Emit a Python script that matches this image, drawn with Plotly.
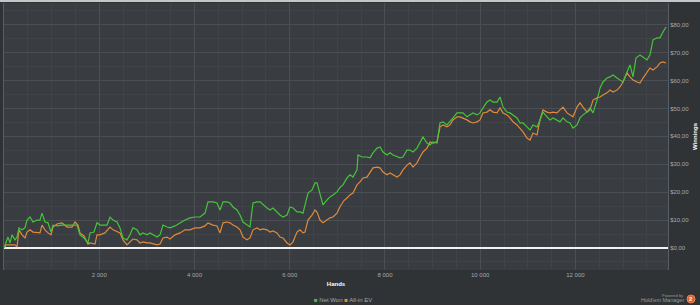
import plotly.graph_objects as go

# ---------------- data ----------------
hands_net = [0, 42, 84, 126, 168, 231, 273, 315, 378, 441, 483, 546, 609, 693, 756, 798, 861, 924, 987, 1029,
             1113, 1218, 1323, 1428, 1533, 1596, 1680, 1764, 1806, 1890, 1953, 2016, 2079, 2163, 2226, 2289,
             2373, 2436, 2499, 2583, 2646, 2709, 2793, 2856, 2919, 3003, 3066, 3129, 3213, 3276, 3339, 3423,
             3486, 3591, 3696, 3801, 3906, 4011, 4116, 4221, 4284, 4389, 4473, 4536, 4599, 4683, 4746, 4809,
             4893, 4956, 5019, 5103, 5166, 5229, 5313, 5376, 5439, 5523, 5586, 5649, 5733, 5796, 5859, 5943,
             6006, 6069, 6153, 6216, 6279, 6321, 6384, 6468, 6531, 6573, 6636, 6699, 6783, 6846, 6909, 6993,
             7056, 7119, 7203, 7266, 7329, 7413, 7434, 7518, 7623, 7686, 7749, 7833, 7896, 7959, 8043, 8106,
             8169, 8253, 8316, 8379, 8463, 8526, 8589, 8673, 8736, 8799, 8883, 8946, 9009, 9093, 9156, 9219,
             9303, 9366, 9429, 9513, 9576, 9639, 9723, 9786, 9849, 9933, 9996, 10059, 10143, 10206, 10269,
             10353, 10416, 10479, 10563, 10626, 10689, 10773, 10836, 10899, 10983, 11046, 11109, 11193, 11256,
             11319, 11403, 11466, 11529, 11613, 11676, 11739, 11823, 11886, 11949, 12033, 12096, 12159, 12243,
             12306, 12369, 12453, 12516, 12579, 12663, 12726, 12789, 12873, 12936, 12999, 13083, 13146, 13209,
             13272, 13356, 13419, 13503, 13566, 13629, 13713, 13776, 13839, 13902]
net_won = [0.0, 1.8, 3.9, 1.8, 4.7, 2.9, 3.9, 7.2, 6.5, 7.2, 10.0, 11.1, 9.3, 10.0, 10.0, 12.5, 9.3, 9.0, 5.7, 8.2,
           7.9, 8.2, 8.2, 8.2, 8.2, 4.7, 3.6, 1.8, 5.4, 5.7, 9.0, 8.2, 8.2, 8.2, 11.1, 10.0,
           9.3, 7.2, 3.6, 2.9, 4.7, 7.2, 6.5, 4.7, 5.4, 4.7, 5.4, 4.7, 3.9, 4.7, 8.2, 7.5,
           7.2, 7.9, 9.0, 10.0, 10.8, 11.1, 11.1, 12.5, 16.5, 16.5, 16.1, 13.6, 16.5, 16.5, 16.1, 14.7,
           13.6, 11.8, 9.3, 8.2, 7.5, 16.1, 16.5, 16.5, 15.4, 14.3, 13.6, 14.3, 12.9, 11.8, 11.1, 11.8,
           14.7, 14.3, 12.9, 12.9, 12.5, 15.4, 19.7, 20.8, 23.3, 23.3, 19.7, 15.4, 17.2, 18.3, 19.0, 20.1,
           21.7, 22.6, 25.1, 26.2, 25.4, 28.0, 33.3, 32.6, 32.6, 32.3, 34.1, 35.8, 36.2, 34.4, 33.3, 34.1,
           33.3, 32.6, 32.3, 32.6, 35.1, 35.1, 34.4, 35.8, 37.6, 39.8, 37.6, 36.9, 38.0, 37.6, 44.8, 45.2,
           44.1, 45.2, 46.6, 48.4, 48.4, 48.4, 47.0, 47.7, 48.4, 47.7, 48.4, 50.2, 52.3, 53.0, 52.3,
           52.3, 54.1, 50.5, 48.7, 48.4, 47.7, 46.6, 44.8, 44.8, 43.4, 42.3, 44.1, 43.4, 45.9,
           48.7, 47.0, 45.9, 46.6, 45.9, 45.2, 46.6, 45.2, 44.8, 43.0, 44.1, 46.6, 47.7, 48.7,
           50.2, 48.4, 53.0, 57.3, 59.5, 60.9, 61.3, 62.0, 60.9, 60.2, 59.5, 63.1, 65.6, 61.3,
           68.1, 69.2, 68.5, 67.4, 69.2, 74.6, 75.3, 75.3, 77.4, 79.2]

hands_ev = [0, 42, 126, 231, 273, 315, 378, 441, 483, 546, 609, 693, 756, 798, 861, 924, 987, 1029,
            1113, 1218, 1323, 1428, 1491, 1554, 1596, 1680, 1764, 1806, 1911, 1953, 2016, 2121, 2226, 2289,
            2373, 2436, 2499, 2583, 2646, 2709, 2793, 2856, 2919, 3003, 3066, 3129, 3213, 3276, 3339, 3423,
            3486, 3591, 3696, 3801, 3906, 4011, 4116, 4221, 4284, 4389, 4473, 4536, 4599, 4683, 4746, 4809,
            4893, 4956, 5019, 5103, 5166, 5229, 5313, 5376, 5439, 5523, 5586, 5649, 5733, 5796, 5859, 5943,
            6006, 6069, 6153, 6216, 6279, 6321, 6384, 6468, 6531, 6573, 6636, 6699, 6783, 6846, 6909, 6993,
            7056, 7140, 7203, 7266, 7329, 7413, 7476, 7539, 7623, 7686, 7749, 7833, 7896, 7959, 8043, 8106,
            8169, 8253, 8316, 8379, 8463, 8526, 8589, 8673, 8736, 8799, 8883, 8946, 9009, 9093, 9156, 9219,
            9303, 9366, 9429, 9513, 9576, 9639, 9723, 9786, 9849, 9933, 9996, 10059, 10143, 10206, 10269,
            10353, 10416, 10479, 10563, 10626, 10689, 10773, 10836, 10899, 10983, 11046, 11109, 11193, 11256,
            11319, 11403, 11466, 11529, 11613, 11676, 11739, 11823, 11886, 11949, 12033, 12096, 12159, 12243,
            12306, 12369, 12453, 12516, 12579, 12663, 12726, 12789, 12873, 12936, 12999, 13083, 13146, 13209,
            13293, 13356, 13419, 13503, 13566, 13629, 13713, 13776, 13839, 13902]
allin_ev = [0.0, 1.1, 1.1, 1.1, 0.4, 6.5, 4.7, 3.6, 5.7, 6.5, 5.7, 5.4, 5.4, 8.2, 6.5, 5.4, 4.7, 7.5,
            8.6, 9.0, 7.5, 7.5, 9.3, 8.2, 5.4, 4.3, 1.4, 1.8, 1.4, 4.7, 4.7, 5.4, 7.5, 6.5,
            5.7, 5.4, 2.9, 1.1, 2.2, 3.2, 2.9, 1.8, 2.2, 1.8, 1.8, 1.4, 1.1, 1.4, 3.6, 3.9,
            3.2, 4.7, 5.4, 6.5, 6.5, 7.2, 7.2, 7.9, 9.0, 8.2, 7.9, 5.4, 9.0, 9.3, 9.0, 8.2,
            7.5, 6.5, 3.9, 2.9, 3.6, 6.5, 7.2, 6.5, 6.8, 6.5, 5.7, 6.1, 5.4, 3.9, 3.6, 1.8,
            1.1, 2.2, 5.7, 6.5, 5.4, 5.7, 10.0, 11.8, 13.6, 12.9, 10.0, 9.0, 10.0, 10.8, 11.1, 12.5,
            14.8, 17.0, 17.9, 19.0, 19.7, 22.6, 23.7, 25.1, 25.4, 26.9, 28.7, 29.0, 28.7, 27.2, 26.2, 26.9,
            26.2, 25.4, 26.2, 28.0, 29.7, 30.5, 29.0, 30.5, 32.6, 34.4, 35.8, 38.0, 37.6, 38.0, 43.4, 44.1,
            43.4, 44.1, 45.9, 47.0, 47.0, 46.6, 45.9, 45.2, 44.8, 45.2, 45.9, 48.4, 48.7, 49.5, 48.7,
            48.4, 50.2, 48.4, 47.7, 46.6, 45.2, 44.1, 43.0, 41.6, 39.4, 38.7, 41.2, 40.5, 45.9,
            49.5, 48.7, 48.4, 48.7, 48.4, 49.5, 50.5, 48.4, 47.7, 47.0, 50.5, 52.0, 50.5, 48.7,
            49.5, 53.0, 53.8, 54.1, 54.8, 55.6, 56.6, 55.9, 56.6, 57.7, 59.5, 62.7, 61.3, 60.2,
            59.5, 59.1, 60.9, 63.1, 64.5, 63.8, 64.9, 66.3, 66.7, 66.3]

x_tick_vals = [2000, 4000, 6000, 8000, 10000, 12000]
x_tick_text = ["2 000", "4 000", "6 000", "8 000", "10 000", "12 000"]
y_tick_vals = [0, 10, 20, 30, 40, 50, 60, 70, 80]
y_tick_text = ["$0,00", "$10,00", "$20,00", "$30,00", "$40,00", "$50,00", "$60,00", "$70,00", "$80,00"]

series_names = ["Net Won", "All-in EV"]
series_colors = ["#45c43a", "#e08a3c"]

# ---------------- figure ----------------
fig = go.Figure()
fig.add_trace(go.Scatter(x=hands_ev, y=allin_ev, mode="lines", name=series_names[1],
                         line=dict(color=series_colors[1], width=1.2),
                         showlegend=False, hoverinfo="skip"))
fig.add_trace(go.Scatter(x=hands_net, y=net_won, mode="lines", name=series_names[0],
                         line=dict(color=series_colors[0], width=1.2),
                         showlegend=False, hoverinfo="skip"))

L, R, T, B = 4, 32, 3, 35
W, H = 700, 305
pw, ph = W - L - R, H - T - B

def px_x(px):
    return (px - L) / pw

def px_y(py):
    return (H - B - py) / ph

fig.update_layout(
    width=W, height=H,
    margin=dict(l=L, r=R, t=T, b=B, autoexpand=False),
    paper_bgcolor="#303336",
    plot_bgcolor="#393c40",
    font=dict(family="Liberation Sans, Arial, sans-serif", color="#a8a8a8", size=6),
    showlegend=False,
    xaxis=dict(range=[0, 13944], tickvals=x_tick_vals, ticktext=x_tick_text, automargin=False,
               showgrid=True, gridcolor="#4b4f54", gridwidth=1,
               minor=dict(dtick=500, showgrid=True, gridcolor="#404347", gridwidth=1),
               zeroline=False, showline=False, ticks="",
               tickfont=dict(size=6, color="#a8a8a8"),
               title=dict(text="<b>Hands</b>", font=dict(size=6, color="#ffffff"), standoff=4)),
    yaxis=dict(range=[-7.9, 87.8], side="right", tickvals=y_tick_vals, ticktext=y_tick_text, automargin=False,
               showgrid=True, gridcolor="#4b4f54", gridwidth=1,
               minor=dict(dtick=5, showgrid=True, gridcolor="#404347", gridwidth=1),
               zeroline=True, zerolinecolor="#f2f2f2", zerolinewidth=2,
               showline=True, linecolor="#5a5e63", linewidth=1, mirror=True, ticks="",
               tickfont=dict(size=6, color="#a8a8a8"),
               title=dict(text="<b>Winnings</b>", font=dict(size=6, color="#ffffff"), standoff=4)),
)

# compact legend: coloured squares + series names
legend_text = "&nbsp;".join(
    f"<span style='color:{c}'>■</span> {n}" for n, c in zip(series_names, series_colors)
)
fig.add_annotation(xref="paper", yref="paper", x=px_x(343), y=px_y(300), xanchor="center", yanchor="middle",
                   text=legend_text, showarrow=False, font=dict(size=6, color="#a8a8a8"))

# light strip along the very top of the page
fig.add_shape(type="rect", xref="paper", yref="paper",
              x0=px_x(0), x1=px_x(700), y0=px_y(2), y1=px_y(0),
              fillcolor="#c4c6c8", line=dict(width=0), layer="above")

# "Powered by Hold'em Manager" badge
fig.add_annotation(xref="paper", yref="paper", x=px_x(685), y=px_y(295.5), xanchor="right", yanchor="middle",
                   text="Powered by", showarrow=False, font=dict(size=4, color="#9a9a9a"))
fig.add_annotation(xref="paper", yref="paper", x=px_x(686), y=px_y(300), xanchor="right", yanchor="middle",
                   text="Hold'em Manager", showarrow=False, font=dict(size=5.5, color="#9a9a9a"))
fig.add_shape(type="circle", xref="paper", yref="paper",
              x0=px_x(687), x1=px_x(695), y0=px_y(303), y1=px_y(295),
              fillcolor="#d9622b", line=dict(color="#e8844e", width=1))
fig.add_annotation(xref="paper", yref="paper", x=px_x(691), y=px_y(299), xanchor="center", yanchor="middle",
                   text="<b>2</b>", showarrow=False, font=dict(size=6, color="#ffffff"))

fig.write_html("out.html")
